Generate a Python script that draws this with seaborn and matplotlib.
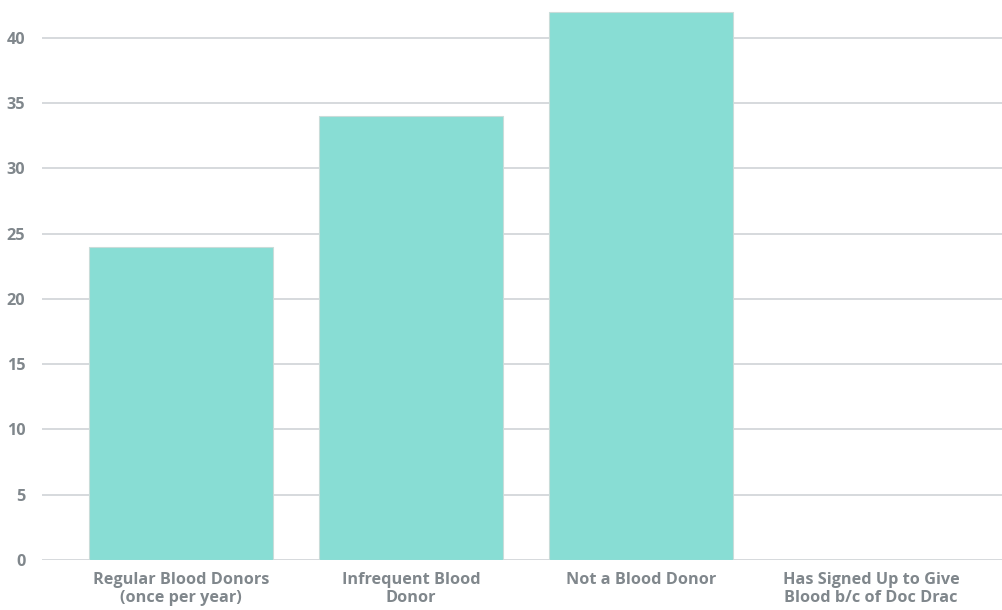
import matplotlib
matplotlib.use("Agg")
import matplotlib.pyplot as plt
import seaborn as sns
import pandas as pd

categories = ["Regular Blood Donors\n(once per year)", "Infrequent Blood\nDonor",
              "Not a Blood Donor", "Has Signed Up to Give\nBlood b/c of Doc Drac"]
values = [24, 34, 42, 0]
yticks = [0, 5, 10, 15, 20, 25, 30, 35, 40]

sns.set_theme(style="white")
plt.rcParams['font.family'] = ['Open Sans', 'DejaVu Sans']

df = pd.DataFrame({"cat": categories, "val": values})
fig = plt.figure(figsize=(10.02, 6.10), dpi=100)
ax = fig.add_axes([42/1002, 50/610, 1 - 42/1002, (560-11)/610])

sns.barplot(data=df, x="cat", y="val", color="#88ddd4", saturation=1, width=0.8,
            edgecolor="#c9dcd9", linewidth=0.8, ax=ax, zorder=3)

ax.set_xlim(-0.604, 3.57)
ax.set_ylim(0, 42.05)
ax.set_yticks(yticks)
ax.yaxis.grid(True, color="#d3d7da", linewidth=1.3, zorder=0)
ax.set_axisbelow(True)
for s in ax.spines.values():
    s.set_visible(False)
ax.set_xlabel("")
ax.set_ylabel("")
ax.tick_params(axis="both", length=0, labelsize=11.7, colors="#80878c")
ax.tick_params(axis="y", pad=12)
ax.tick_params(axis="x", pad=9)
for lab in ax.get_xticklabels() + ax.get_yticklabels():
    lab.set_fontweight("bold")
for lab in ax.get_xticklabels():
    lab.set_linespacing(1.15)

fig.savefig("out.png", dpi=100)
